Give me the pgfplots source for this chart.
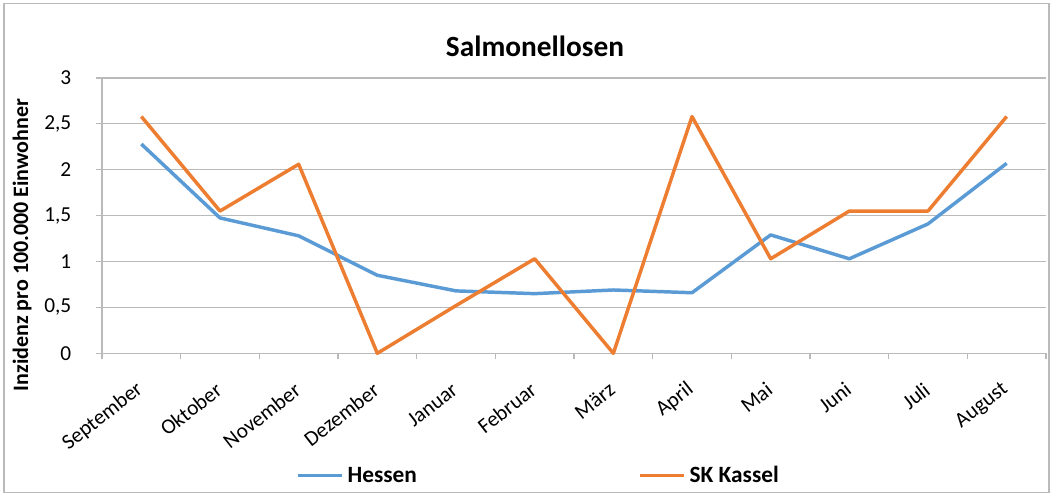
\documentclass[border=0pt]{standalone}
\usepackage{fontspec}
\setmainfont{Carlito}
\usepackage{pgfplots}
\pgfplotsset{compat=1.18}
\definecolor{hblue}{HTML}{5B9BD5}
\definecolor{korange}{HTML}{ED7D31}
\definecolor{gridgray}{HTML}{BABABA}
\begin{document}
\begin{tikzpicture}
\path[use as bounding box] (-76.5pt,-107.775pt) rectangle (713.25pt,264.975pt);
\draw[gridgray, line width=0.8pt] (-73.5pt,-104.5pt) rectangle (710.25pt,262pt);
\begin{axis}[
  at={(0,0)}, anchor=south west,
  scale only axis,
  width=708pt, height=206.5pt,
  xmin=0.5, xmax=12.5,
  ymin=0, ymax=3,
  clip=false,
  axis lines*=left,
  axis line style={draw=gridgray, line width=0.8pt},
  ymajorgrids,
  grid style={draw=gridgray, line width=0.8pt},
  ytick={0,0.5,1,1.5,2,2.5,3},
  yticklabels={0,{0,5},1,{1,5},2,{2,5},3},
  xtick={1,...,12},
  xticklabels={September,Oktober,November,Dezember,Januar,Februar,März,April,Mai,Juni,Juli,August},
  minor xtick={0.5,1.5,...,12.5},
  tick align=outside,
  major tick length=4.5pt,
  minor tick length=4.5pt,
  major x tick style={draw=none},
  every tick/.style={draw=gridgray, line width=0.8pt},
  minor x tick style={draw=gridgray, line width=0.8pt},
  yticklabel style={font=\fontsize{16}{19}\selectfont, anchor=east, xshift=-15pt},
  xticklabel style={font=\fontsize{16}{19}\selectfont, rotate=38, anchor=east, xshift=-10pt, yshift=-16pt},
  title={Salmonellosen},
  title style={font=\fontsize{22}{26}\selectfont\bfseries, at={(0.4587,1)}, anchor=center, yshift=18pt},
  ylabel={Inzidenz pro 100.000 Einwohner},
  ylabel style={font=\fontsize{16.5}{20}\selectfont\bfseries, at={(axis description cs:-0.0847,0.393)}, anchor=center},
  legend columns=2,
  legend style={at={(0.2055,-0.444)}, anchor=west, draw=none, fill=none, inner sep=0pt,
    font=\fontsize{17.5}{21}\selectfont\bfseries,
    nodes={inner sep=0pt},
    /tikz/every odd column/.append style={column sep=3pt},
    /tikz/every even column/.append style={column sep=166pt}},
  legend image code/.code={\draw[#1, line width=2.5pt] (0pt,0pt) -- (33pt,0pt);},
]
\addplot[hblue, line width=2.6pt, line join=round] coordinates {
 (1,2.28) (2,1.475) (3,1.28) (4,0.85) (5,0.68) (6,0.65) (7,0.69) (8,0.66) (9,1.29) (10,1.03) (11,1.41) (12,2.07)
};
\addlegendentry{Hessen}
\addplot[korange, line width=2.6pt, line join=round] coordinates {
 (1,2.58) (2,1.55) (3,2.06) (4,0) (5,0.52) (6,1.03) (7,0) (8,2.58) (9,1.03) (10,1.55) (11,1.55) (12,2.58)
};
\addlegendentry{SK Kassel}
\end{axis}
\end{tikzpicture}
\end{document}
